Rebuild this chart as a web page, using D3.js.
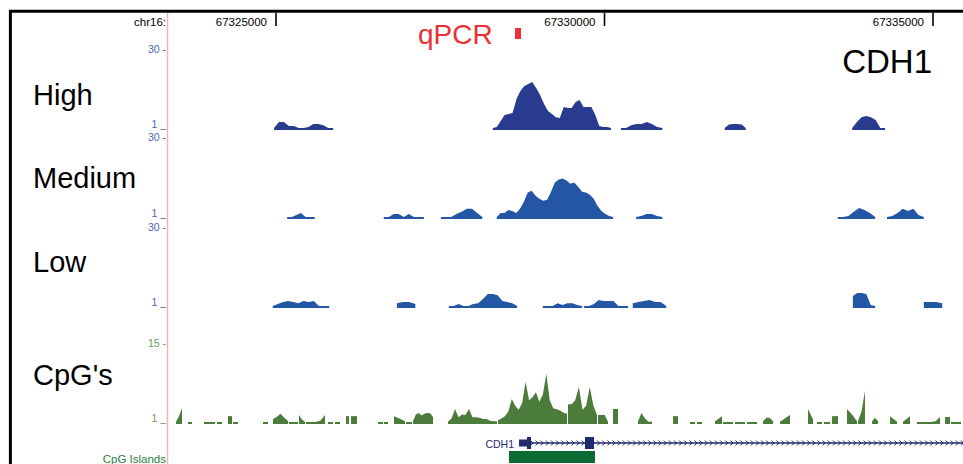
<!DOCTYPE html>
<html>
<head>
<meta charset="utf-8">
<script src="https://cdn.jsdelivr.net/npm/d3@7.9.0/dist/d3.min.js"></script>
<style>
  body { margin: 0; background: #fff; }
  svg { display: block; font-family: "Liberation Sans", Arial, Helvetica, sans-serif; }
</style>
</head>
<body>
<svg id="chart" width="963" height="464"></svg>
<script>
// genome positions are in kb on chr16
const viewStart = 67323.356;
const viewEnd = 67335.426;
const rulerTicks = [67325, 67330, 67335];

// each segment: [start kb, end kb, values sampled evenly across it]
const highSegments = [
  [67324.97, 67325.87, [1.3, 3.5, 3.5, 2.1, 2.1, 1.3, 1.3, 1.7, 2.8, 2.8, 2.4, 1.3, 1.3]],
  [67328.30, 67330.10, [1, 1.7, 3.9, 6.1, 6.4, 6.8, 11.9, 14.8, 16.6, 17.3, 18, 15.9, 13.3, 10.1, 7.5, 6.4,
    5.3, 5, 9, 8.6, 8.6, 10.8, 11.5, 9, 9, 9, 6.1, 2.1, 1.7, 1.7, 1.4]],
  [67330.25, 67330.88, [1, 1.4, 2.4, 2.8, 2.8, 3.5, 2.8, 1.7, 1.4]],
  [67331.83, 67332.15, [1.4, 2.6, 2.8, 2.8, 2.6, 1.4]],
  [67333.77, 67334.27, [1.4, 3.5, 5.3, 5.7, 5.3, 4.3, 1.4, 1.4]]
];

const mediumSegments = [
  [67325.17, 67325.59, [1, 1, 2.1, 2.8, 1.2, 1, 1]],
  [67326.64, 67327.25, [1, 1, 2.4, 2.4, 1.2, 2.4, 1.2, 1, 1]],
  [67327.51, 67328.14, [1, 1, 1.2, 2.4, 3.2, 4.3, 4.3, 2.8, 1.2]],
  [67328.36, 67330.13, [1.4, 2.8, 2.8, 3.9, 3.5, 2.8, 4.3, 6.8, 10.1, 10.8, 9, 7.9, 7.2, 7.5, 10.4, 13.7,
    14.8, 15.1, 14.4, 13.3, 13.7, 12.2, 10.4, 10.1, 9.3, 7.9, 5.3, 3.5, 2.4, 1.7, 1.4]],
  [67330.48, 67330.88, [1.2, 1.7, 2.4, 2.4, 1.7, 1.2]],
  [67333.55, 67334.12, [1.2, 1.2, 1.7, 3.2, 4.6, 3.9, 2.8, 1.2]],
  [67334.30, 67334.86, [1.2, 1.7, 2.8, 4.3, 3.5, 4.3, 2.1, 1.2]]
];

const lowSegments = [
  [67324.95, 67325.81, [1.2, 2.1, 2.8, 3.2, 2.8, 2.4, 3.2, 2.8, 3.2, 1.2, 1, 1]],
  [67326.84, 67327.12, [2.4, 2.8, 2.8, 2.1]],
  [67327.63, 67328.67, [1.2, 1.2, 2.1, 1.2, 1.2, 2.1, 2.4, 3.9, 5.7, 5.7, 5.3, 3.2, 2.8, 2.4, 1.2]],
  [67329.06, 67329.66, [1.2, 1.2, 1.2, 2.4, 1.7, 2.4, 2.4, 1.7, 1.2]],
  [67329.69, 67330.36, [1.2, 1.2, 2.1, 3.5, 3.2, 3.2, 3.2, 1.2, 1.2, 1.2]],
  [67330.43, 67330.94, [2.4, 2.8, 3.2, 3.5, 2.8, 2.8, 1.4]],
  [67333.78, 67334.12, [5, 6.1, 6.1, 5.7, 1.7, 1.4]],
  [67334.86, 67335.14, [2.8, 2.8, 2.8, 2.4]]
];

const cpgSegments = [
  [67323.478, 67323.569, [1.2, 2.2, 3.6]],
  [67323.661, 67323.721, [1, 1]],
  [67323.904, 67324.072, [1, 1]],
  [67324.102, 67324.178, [1, 1]],
  [67324.269, 67324.330, [2.2, 2.2]],
  [67324.346, 67324.422, [1, 1]],
  [67324.802, 67324.878, [1, 1]],
  [67324.954, 67325.183, [1.7, 2.05, 2.6, 1.9, 1.35]],
  [67325.198, 67325.335, [1, 1]],
  [67325.350, 67325.441, [2.4, 1.6, 1.1]],
  [67325.457, 67325.746, [1, 1, 1, 1.4, 2.4]],
  [67325.791, 67325.868, [1, 1]],
  [67325.898, 67325.974, [1, 1]],
  [67326.065, 67326.111, [2.2, 2.2]],
  [67326.142, 67326.233, [2.2, 2.2]],
  [67326.553, 67326.629, [1, 1]],
  [67326.644, 67326.705, [1, 1]],
  [67326.796, 67326.963, [2.2, 1.8, 1.3]],
  [67326.979, 67327.070, [1, 1]],
  [67327.085, 67327.390, [1.3, 2.5, 2.75, 2.3, 2.6, 2.75, 2.7, 2.0]],
  [67327.618, 67328.364, [1.2, 1.8, 3.45, 2.0, 2.5, 2.4, 3.45, 2.0, 2.0, 1.9, 1.7, 1.7, 1.4, 1.3, 1.3]],
  [67328.379, 67329.429, [1.5, 1.8, 2.2, 3.0, 5.2, 4.0, 3.3, 4.5, 8.2, 5.0, 5.5, 6.4, 4.7, 6.0, 9.6, 5.0,
    3.6, 3.4, 3.2, 2.8, 2.6]],
  [67329.444, 67329.886, [4.3, 4.3, 5.0, 7.3, 3.3, 4.0, 7.3, 4.0, 2.4]],
  [67329.901, 67330.053, [2.4, 2.4, 2.4, 1.2]],
  [67330.129, 67330.205, [3.45, 3.45]],
  [67330.510, 67330.723, [1.3, 2.75, 1.8, 1.2, 1.2]],
  [67331.043, 67331.119, [2.2, 2.2]],
  [67331.301, 67331.377, [1, 1]],
  [67331.408, 67331.484, [1, 1]],
  [67331.682, 67331.788, [1.3, 2.2]],
  [67331.804, 67331.956, [1, 1]],
  [67331.986, 67332.139, [1, 1]],
  [67332.169, 67332.321, [1, 1]],
  [67332.412, 67332.565, [1.3, 1.9, 1.9, 1.3]],
  [67332.671, 67332.823, [1.2, 2.4]],
  [67333.097, 67333.174, [3.45, 1.6]],
  [67333.234, 67333.311, [1, 1]],
  [67333.341, 67333.432, [1, 1]],
  [67333.463, 67333.554, [2.2, 2.2]],
  [67333.691, 67333.843, [3.45, 2.5, 1.3]],
  [67333.858, 67333.965, [1.3, 3.0, 6.6]],
  [67334.072, 67334.163, [1.3, 1.9, 1.3]],
  [67334.346, 67334.452, [2.2, 1.2]],
  [67334.543, 67334.650, [1.2, 2.2]],
  [67334.756, 67335.107, [1, 1, 1, 1, 1.3, 2.05]],
  [67335.183, 67335.259, [2.05, 2.05]],
  [67335.274, 67335.426, [1, 1]]
];

const geneName = "CDH1";
const geneSpan = [67328.699, 67335.6];
const geneExons = [
  [67328.699, 67328.820, "utr"],
  [67328.820, 67328.881, "cds"],
  [67329.703, 67329.840, "cds"]
];
const cpgIslands = [[67328.546, 67329.855]];
const qpcrAmplicon = [67328.638, 67328.729];

const svg = d3.select("#chart");
const dataLeft = 168, dataRight = 961;
const x = d3.scaleLinear().domain([viewStart, viewEnd]).range([dataLeft, dataRight]);

let tracks = [
  { name: "High", segs: highSegments, top: 49, bottom: 129, max: 30, labelY: 105, fill: "#283b8e", axis: "#4a66b0" },
  { name: "Medium", segs: mediumSegments, top: 137, bottom: 218, max: 30, labelY: 188, fill: "#2456a6", axis: "#4a66b0" },
  { name: "Low", segs: lowSegments, top: 227, bottom: 307, max: 30, labelY: 272, fill: "#2456a6", axis: "#4a66b0" },
  { name: "CpG's", segs: cpgSegments, top: 343, bottom: 423, max: 15, labelY: 385, fill: "#4b7c3b", axis: "#6a9c55" }
];

let clip = svg.append("clipPath").attr("id", "data-clip")
  .append("rect").attr("x", dataLeft).attr("y", 0).attr("width", dataRight - dataLeft + 2).attr("height", 464);

tracks.forEach((t) => {
  let y = d3.scaleLinear().domain([1, t.max]).range([t.bottom, t.top]);

  let area = d3.area()
    .x((d) => x(d[0]))
    .y0(t.bottom + 1)
    .y1((d) => Math.min(y(d[1]), t.bottom - 1));

  let g = svg.append("g").attr("clip-path", "url(#data-clip)");
  t.segs.forEach(([s, e, vals]) => {
    let pts = vals.map((v, i) => [s + (i * (e - s)) / (vals.length - 1), v]);
    g.append("path").attr("d", area(pts)).attr("fill", t.fill);
  });

  // track axis labels
  svg.append("text")
    .attr("x", 166).attr("y", y(t.max) + 4)
    .attr("text-anchor", "end").attr("font-size", 10.5).attr("fill", t.axis)
    .text(`${t.max} -`);
  svg.append("text")
    .attr("x", 166).attr("y", y(1) - 1)
    .attr("text-anchor", "end").attr("font-size", 10.5).attr("fill", t.axis)
    .text("1 _");

  svg.append("text")
    .attr("x", 33).attr("y", t.labelY)
    .attr("font-size", 29).attr("fill", "#000")
    .text(t.name);
});

// ruler
svg.append("text")
  .attr("x", 166).attr("y", 26)
  .attr("text-anchor", "end").attr("font-size", 11.5)
  .text("chr16:");

rulerTicks.forEach((t) => {
  svg.append("line")
    .attr("x1", x(t)).attr("x2", x(t))
    .attr("y1", 13).attr("y2", 26)
    .attr("stroke", "#000").attr("stroke-width", 1.6);
  svg.append("text")
    .attr("x", x(t) - 9).attr("y", 26)
    .attr("text-anchor", "end").attr("font-size", 11.5)
    .text(d3.format("d")(t * 1000));
});

// qPCR amplicon
svg.append("rect")
  .attr("x", x(qpcrAmplicon[0])).attr("y", 28)
  .attr("width", x(qpcrAmplicon[1]) - x(qpcrAmplicon[0])).attr("height", 11)
  .attr("fill", "#ec2f36");
svg.append("text")
  .attr("x", 418).attr("y", 44)
  .attr("font-size", 28).attr("fill", "#ec2f36")
  .text("qPCR");

svg.append("text")
  .attr("x", 932).attr("y", 73)
  .attr("text-anchor", "end").attr("font-size", 33).attr("fill", "#000")
  .text(geneName);

// gene model
let geneG = svg.append("g").attr("clip-path", "url(#data-clip)");
let geneY = 443;
let navy = "#1f2a6c";
geneG.append("line")
  .attr("x1", x(geneSpan[0])).attr("x2", x(geneSpan[1]))
  .attr("y1", geneY).attr("y2", geneY)
  .attr("stroke", navy).attr("stroke-width", 1.5);

let chevrons = d3.range(geneSpan[0] + 0.12, geneSpan[1], 0.078);
geneG.selectAll("path.chev")
  .data(chevrons)
  .join("path")
  .attr("class", "chev")
  .attr("d", (d) => `M${x(d) - 1.5},${geneY - 2.5}L${x(d) + 1},${geneY}L${x(d) - 1.5},${geneY + 2.5}`)
  .attr("fill", "none").attr("stroke", navy).attr("stroke-width", 1);

geneG.selectAll("rect.exon")
  .data(geneExons)
  .join("rect")
  .attr("class", "exon")
  .attr("x", (d) => x(d[0]))
  .attr("width", (d) => x(d[1]) - x(d[0]))
  .attr("y", (d) => (d[2] === "utr" ? geneY - 3.5 : geneY - 6))
  .attr("height", (d) => (d[2] === "utr" ? 7 : 12))
  .attr("fill", navy);

svg.append("text")
  .attr("x", x(geneSpan[0]) - 5).attr("y", 448)
  .attr("text-anchor", "end").attr("font-size", 10.5).attr("fill", navy)
  .text(geneName);

// CpG islands
svg.selectAll("rect.island")
  .data(cpgIslands)
  .join("rect")
  .attr("class", "island")
  .attr("x", (d) => x(d[0]))
  .attr("width", (d) => x(d[1]) - x(d[0]))
  .attr("y", 451).attr("height", 12)
  .attr("fill", "#0c6b34");
svg.append("text")
  .attr("x", 166).attr("y", 463)
  .attr("text-anchor", "end").attr("font-size", 11.5).attr("fill", "#2a8040")
  .text("CpG Islands");

// pink guide line and frame
svg.append("line")
  .attr("x1", 167.5).attr("x2", 167.5).attr("y1", 13).attr("y2", 464)
  .attr("stroke", "#f5b3b3").attr("stroke-width", 1.5);
svg.append("line")
  .attr("x1", 9).attr("x2", 963).attr("y1", 11.3).attr("y2", 11.3)
  .attr("stroke", "#000").attr("stroke-width", 3);
svg.append("line")
  .attr("x1", 10.4).attr("x2", 10.4).attr("y1", 10).attr("y2", 464)
  .attr("stroke", "#000").attr("stroke-width", 3);
</script>
</body>
</html>
